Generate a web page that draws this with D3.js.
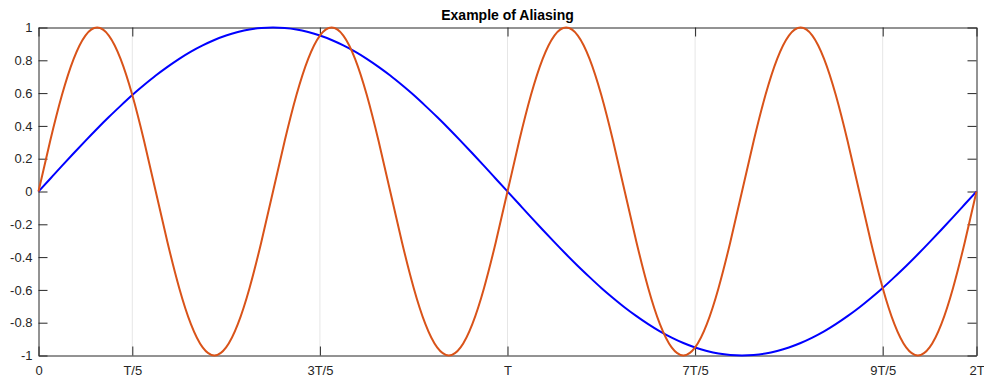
<!DOCTYPE html>
<html>
<head>
<meta charset="utf-8">
<script src="https://cdn.jsdelivr.net/npm/d3@7"></script>
<style>
html,body{margin:0;padding:0;background:#fff;}
svg{display:block;font-family:"Liberation Sans",Arial,Helvetica,sans-serif;}
</style>
</head>
<body>
<svg id="chart" width="984" height="378"></svg>
<script>
// x positions in units of T (step T/40), 0 .. 2T
const xSamples = d3.range(0, 81).map(k => k / 40);
// blue series (slow signal) values
const blueValues = [
 0, 0.078, 0.156, 0.233, 0.309, 0.383, 0.454, 0.522, 0.588, 0.649,
 0.707, 0.760, 0.809, 0.853, 0.891, 0.924, 0.951, 0.972, 0.988, 0.997,
 1, 0.997, 0.988, 0.972, 0.951, 0.924, 0.891, 0.853, 0.809, 0.760,
 0.707, 0.649, 0.588, 0.522, 0.454, 0.383, 0.309, 0.233, 0.156, 0.078,
 0, -0.078, -0.156, -0.233, -0.309, -0.383, -0.454, -0.522, -0.588, -0.649,
 -0.707, -0.760, -0.809, -0.853, -0.891, -0.924, -0.951, -0.972, -0.988, -0.997,
 -1, -0.997, -0.988, -0.972, -0.951, -0.924, -0.891, -0.853, -0.809, -0.760,
 -0.707, -0.649, -0.588, -0.522, -0.454, -0.383, -0.309, -0.233, -0.156, -0.078,
 0
];
// orange series (fast signal) values
const orangeValues = [
 0, 0.309, 0.588, 0.809, 0.951, 1, 0.951, 0.809, 0.588, 0.309,
 0, -0.309, -0.588, -0.809, -0.951, -1, -0.951, -0.809, -0.588, -0.309,
 0, 0.309, 0.588, 0.809, 0.951, 1, 0.951, 0.809, 0.588, 0.309,
 0, -0.309, -0.588, -0.809, -0.951, -1, -0.951, -0.809, -0.588, -0.309,
 0, 0.309, 0.588, 0.809, 0.951, 1, 0.951, 0.809, 0.588, 0.309,
 0, -0.309, -0.588, -0.809, -0.951, -1, -0.951, -0.809, -0.588, -0.309,
 0, 0.309, 0.588, 0.809, 0.951, 1, 0.951, 0.809, 0.588, 0.309,
 0, -0.309, -0.588, -0.809, -0.951, -1, -0.951, -0.809, -0.588, -0.309,
 0
];
const xTickValues = [0, 0.2, 0.6, 1, 1.4, 1.8, 2];
const xTickLabels = ["0", "T/5", "3T/5", "T", "7T/5", "9T/5", "2T"];
const yTickValues = [-1, -0.8, -0.6, -0.4, -0.2, 0, 0.2, 0.4, 0.6, 0.8, 1];
const titleText = "Example of Aliasing";

(function () {
const svg = d3.select("#chart");
const mLeft = 38.5, mRight = 976.5, mTop = 27.5, mBottom = 355.5;
const x = d3.scaleLinear().domain([0, 2]).range([mLeft, mRight]);
const y = d3.scaleLinear().domain([-1, 1]).range([mBottom, mTop]);
const axisColor = "#262626";
const tickLen = 9;

// vertical grid
svg.append("g").selectAll("line").data(xTickValues.slice(1, -1)).join("line")
  .attr("x1", d => x(d)).attr("x2", d => x(d))
  .attr("y1", mTop).attr("y2", mBottom)
  .attr("stroke", "#e6e6e6").attr("stroke-width", 1);

const fmt = v => (Math.round(v * 10) / 10).toString();

const xb = svg.append("g").attr("transform", `translate(0,${mBottom})`)
  .call(d3.axisBottom(x).tickValues(xTickValues).tickFormat((d, i) => xTickLabels[i]).tickSizeInner(-tickLen).tickSizeOuter(0).tickPadding(10));
const xt = svg.append("g").attr("transform", `translate(0,${mTop})`)
  .call(d3.axisTop(x).tickValues(xTickValues).tickFormat("").tickSizeInner(-tickLen).tickSizeOuter(0));
const yl = svg.append("g").attr("transform", `translate(${mLeft},0)`)
  .call(d3.axisLeft(y).tickValues(yTickValues).tickFormat(fmt).tickSizeInner(-tickLen).tickSizeOuter(0).tickPadding(6));
const yr = svg.append("g").attr("transform", `translate(${mRight},0)`)
  .call(d3.axisRight(y).tickValues(yTickValues).tickFormat("").tickSizeInner(-tickLen).tickSizeOuter(0));

[xb, xt, yl, yr].forEach(g => {
  g.select(".domain").attr("stroke", axisColor).attr("stroke-width", 1);
  g.selectAll(".tick line").attr("stroke", axisColor).attr("stroke-width", 1);
  g.selectAll(".tick text").attr("fill", axisColor).attr("font-size", 13)
    .attr("font-family", '"Liberation Sans",Arial,Helvetica,sans-serif');
});

const line = d3.line().x((d, i) => x(xSamples[i])).y(d => y(d)).curve(d3.curveNatural);
svg.append("path").datum(blueValues).attr("d", line)
  .attr("fill", "none").attr("stroke", "#0000ff").attr("stroke-width", 2);
svg.append("path").datum(orangeValues).attr("d", line)
  .attr("fill", "none").attr("stroke", "#d95319").attr("stroke-width", 2);

svg.append("text").attr("x", (mLeft + mRight) / 2).attr("y", 20)
  .attr("text-anchor", "middle").attr("font-weight", "bold").attr("font-size", 14)
  .attr("fill", "#000").text(titleText);
})();
</script>
</body>
</html>
